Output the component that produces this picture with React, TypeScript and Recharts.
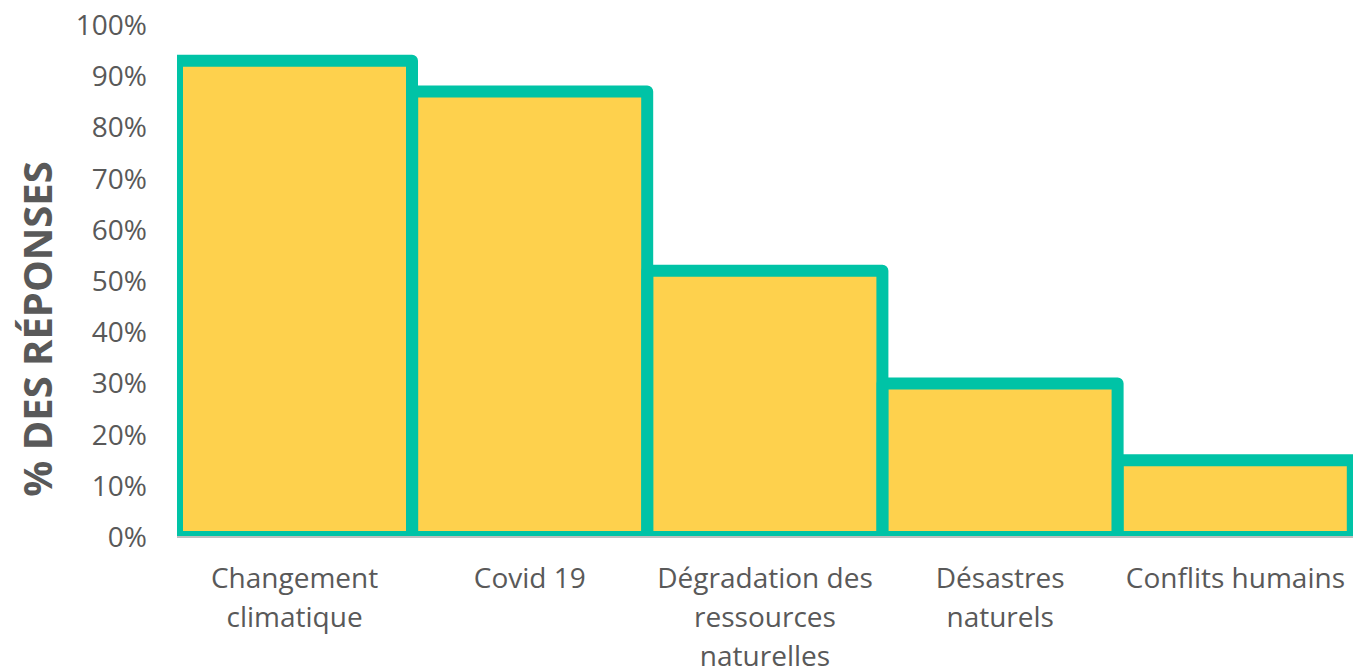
import { BarChart, Bar, XAxis, YAxis } from 'recharts';

const categories = [
    'Changement climatique',
    'Covid 19',
    'Dégradation des ressources naturelles',
    'Désastres naturels',
    'Conflits humains',
];
const responses = [0.93, 0.87, 0.52, 0.3, 0.15];
const yTicks = [0, 0.1, 0.2, 0.3, 0.4, 0.5, 0.6, 0.7, 0.8, 0.9, 1];
const yTitle = '% DES RÉPONSES';

const data = categories.map((name, i) => ({ name, value: responses[i] }));

const FONT = '"Open Sans", sans-serif';
const GREY = '#595959';

function wrap(label: string, max = 16) {
    const lines: string[] = [];
    let cur = '';
    for (const w of label.split(' ')) {
        const next = cur ? cur + ' ' + w : w;
        if (next.length > max && cur) {
            lines.push(cur);
            cur = w;
        } else cur = next;
    }
    if (cur) lines.push(cur);
    return lines;
}

function CategoryTick({ x, y, payload }: any) {
    const lines = wrap(payload.value);
    return (
        <text x={x} y={y} textAnchor="middle" fill={GREY} fontFamily={FONT} fontSize={28}>
            {lines.map((l, i) => (
                <tspan key={i} x={x} dy={i === 0 ? 43 : 39}>{l}</tspan>
            ))}
        </text>
    );
}

export default function App() {
    return (
        <div style={{ position: 'absolute', left: 0, top: 0, width: 1353, height: 670, overflow: 'hidden', background: '#fff' }}>
            <BarChart
                width={1353}
                height={670}
                data={data}
                margin={{ top: 25, right: 0, bottom: 13, left: 0 }}
                barCategoryGap={0}
            >
                <XAxis
                    dataKey="name"
                    height={120}
                    allowDataOverflow
                    tickLine={false}
                    axisLine={{ stroke: '#bfbfbf', strokeWidth: 2 }}
                    tick={<CategoryTick />}
                    interval={0}
                />
                <YAxis
                    width={177}
                    type="number"
                    domain={[0, 1]}
                    allowDataOverflow
                    ticks={yTicks}
                    tickFormatter={(v) => `${Math.round(v * 100)}%`}
                    axisLine={false}
                    tickLine={false}
                    tickMargin={24}
                    tick={{ fill: GREY, fontFamily: FONT, fontSize: 28 }}
                    label={{
                        value: yTitle,
                        content: () => (
                            <text
                                transform="translate(52, 329) rotate(-90)"
                                textAnchor="middle"
                                fill={GREY}
                                fontFamily={FONT}
                                fontSize={40}
                                fontWeight={700}
                            >
                                {yTitle}
                            </text>
                        ),
                    }}
                />
                <Bar
                    dataKey="value"
                    fill="#FED14D"
                    stroke="#00C3A6"
                    strokeWidth={12}
                    strokeLinejoin="round"
                    isAnimationActive={false}
                />
            </BarChart>
        </div>
    );
}
